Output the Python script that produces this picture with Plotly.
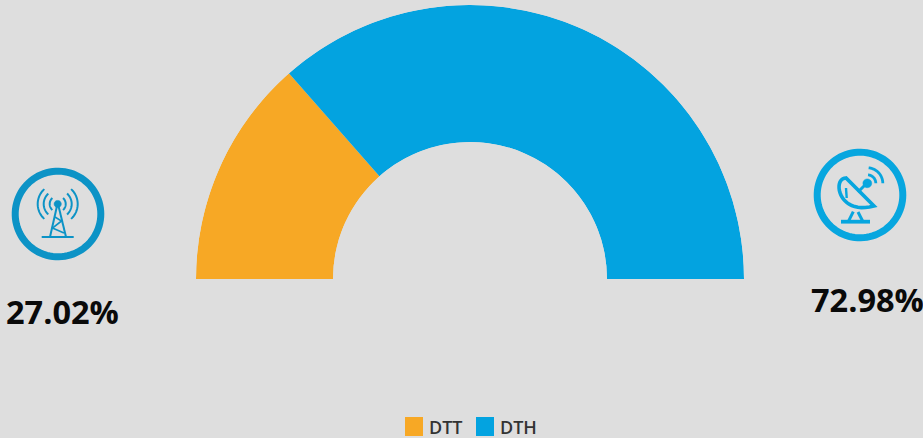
import numpy as np
import plotly.graph_objects as go

W, H = 923, 438
categories = ["DTT", "DTH"]
shares = [27.02, 72.98]
colors = ["#f7a825", "#03a3e0"]
labels = ["27.02%", "72.98%"]
BG = "#dedede"
ICON_L = "#0c93c6"
ICON_R = "#07a6df"

def px(x): return x / W
def py(y): return 1 - y / H

def poly(points, close=False):
    s = "M" + " L".join(f"{px(x):.5f},{py(y):.5f}" for x, y in points)
    return s + (" Z" if close else "")

def arc(cx, cy, r, a0, a1, n=24):
    t = np.radians(np.linspace(a0, a1, n))
    return [(cx + r * np.cos(v), cy - r * np.sin(v)) for v in t]

def bezier(p0, p1, p2, p3, n=24):
    out = []
    for t in np.linspace(0, 1, n):
        u = 1 - t
        out.append(tuple(u**3 * a + 3 * u * u * t * b + 3 * u * t * t * c + t**3 * d
                         for a, b, c, d in zip(p0, p1, p2, p3)))
    return out

shapes = []
def stroke(points, color, w, close=False):
    shapes.append(dict(type="path", xref="paper", yref="paper", path=poly(points, close),
                       line=dict(color=color, width=w), fillcolor="rgba(0,0,0,0)"))
def fill(points, color):
    shapes.append(dict(type="path", xref="paper", yref="paper", path=poly(points, True),
                       line=dict(color=color, width=0.5), fillcolor=color))

# left icon: tower
cx, cy = 58, 214
stroke(arc(cx, cy, 42.8, 0, 360, 90), ICON_L, 7, True)
tx, ty = 57.7, 204
fill(arc(tx, ty, 3.6, 0, 360, 24), ICON_L)
for r in (8, 14, 20):
    stroke(arc(tx, ty, r, -48, 48), ICON_L, 2)
    stroke(arc(tx, ty, r, 132, 228), ICON_L, 2)
stroke([(41.7, 237), (73.7, 237)], ICON_L, 2)
stroke([(57, 206), (50, 237)], ICON_L, 2)
stroke([(58.5, 206), (66, 237)], ICON_L, 2)
stroke([(55, 217), (61.5, 221), (52.5, 228), (64, 233)], ICON_L, 1.6)

# right icon: dish
cx, cy = 860, 195
stroke(arc(cx, cy, 42.8, 0, 360, 90), ICON_R, 7, True)
stroke([(841, 221.7), (870, 221.7)], ICON_R, 3.8)
stroke([(853.3, 211.7), (848.3, 221.7)], ICON_R, 3)
stroke([(858, 212), (863, 221.7)], ICON_R, 3)
stroke(bezier((846, 178), (832, 178), (838, 216), (874, 206)), ICON_R, 3.6, True)
stroke([(846, 188), (846.7, 198)], ICON_R, 2.4)
stroke([(858, 192), (867, 183)], ICON_R, 3)
fill(arc(867.3, 183.3, 4.4, 0, 360, 24), ICON_R)
for r in (8.5, 15.5):
    stroke(arc(867.3, 183.3, r, 0, 85), ICON_R, 2.8)

# legend swatches
stroke_items = [(405, 423, colors[0]), (476, 494, colors[1])]
for x0, x1, c in stroke_items:
    shapes.append(dict(type="rect", xref="paper", yref="paper", x0=px(x0), x1=px(x1),
                       y0=py(417), y1=py(436), fillcolor=c, line=dict(width=0)))

def text(x, y, s, size, weight, color, anchor):
    return dict(x=px(x), y=py(y), xref="paper", yref="paper", text=s, showarrow=False,
                xanchor=anchor, yanchor="middle", xshift=0, yshift=0,
                font=dict(family="Open Sans", size=size, color=color, weight=weight))

annotations = [
    text(62.5, 311.5, labels[0], 32.5, 700, "#0a0a0a", "center"),
    text(867, 299.5, labels[1], 32.5, 700, "#0a0a0a", "center"),
    text(426.5, 426.5, categories[0], 18, 600, "#333333", "left"),
    text(497.5, 426.5, categories[1], 18, 600, "#333333", "left"),
]

# half-circle: 100% maps onto 180 degrees, from left to right
total = sum(shares)
widths = [s / total * 180 for s in shares]
start = 180.0
fig = go.Figure()
for name, w, c in zip(categories, widths, colors):
    fig.add_trace(go.Barpolar(r=[1], theta=[start - w / 2], width=[w], name=name,
                              marker=dict(color=c, line=dict(width=0)), showlegend=False,
                              hoverinfo="name"))
    start -= w

fig.update_layout(
    width=W, height=H,
    margin=dict(l=0, r=0, t=0, b=0),
    paper_bgcolor=BG, plot_bgcolor=BG,
    showlegend=False,
    shapes=shapes, annotations=annotations,
    polar=dict(
        domain=dict(x=[px(195.5), px(744.5)], y=[py(279), py(5)]),
        sector=[0, 180], hole=0.5, bgcolor="rgba(0,0,0,0)",
        angularaxis=dict(visible=False, rotation=0, direction="counterclockwise"),
        radialaxis=dict(visible=False, range=[0, 1]),
    ),
)
fig.write_html("out.html", config=dict(displayModeBar=False),
               post_script="document.body.style.margin='0';document.body.style.overflow='hidden';document.body.style.background='#dedede';")
